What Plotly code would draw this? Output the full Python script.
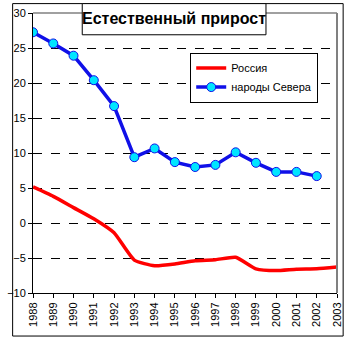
import plotly.graph_objects as go

years = list(range(1988, 2004))
russia = [5.15, 3.8, 2.2, 0.6, -1.4, -5.3, -6.1, -5.85, -5.4, -5.25, -4.9, -6.55, -6.8, -6.6, -6.55, -6.3]
north_years = list(range(1988, 2003))
north = [27.25, 25.65, 23.9, 20.4, 16.7, 9.4, 10.65, 8.7, 8.0, 8.3, 10.1, 8.6, 7.3, 7.3, 6.7]
y_ticks = [-10, -5, 0, 5, 10, 15, 20, 25, 30]

W, H = 350, 337
L, R, T, B = 22, 7, 10, 44
pw, ph = W - L - R, H - T - B

def px(x):
    return (x - L) / pw

def py(y):
    return 1 - (y - T) / ph

fig = go.Figure()
fig.add_trace(go.Scatter(x=years, y=russia, name="Россия", mode="lines",
                         line=dict(color="#ff0000", width=3.5, shape="spline", smoothing=0.5)))
fig.add_trace(go.Scatter(x=north_years, y=north, name="народы Севера", mode="lines+markers",
                         line=dict(color="#1010e8", width=3.5),
                         marker=dict(size=9, color="#00e5ff", line=dict(color="#1010e8", width=1))))

fig.update_layout(
    width=W, height=H,
    margin=dict(l=L, r=R, t=T, b=B),
    paper_bgcolor="white", plot_bgcolor="white",
    font=dict(family="Arial, Liberation Sans, sans-serif", size=11, color="black"),
    showlegend=True,
    legend=dict(x=px(188), y=py(50), xanchor="left", yanchor="top",
                bordercolor="black", borderwidth=1, bgcolor="white",
                font=dict(size=11), tracegroupgap=0, itemwidth=30),
    xaxis=dict(range=[1988, 2003], tickvals=years, ticktext=[str(y) for y in years],
               tickangle=-90, showgrid=False, zeroline=False, showline=True,
               linecolor="black", linewidth=1, ticks="outside", ticklen=4,
               tickcolor="black", tickfont=dict(size=11)),
    yaxis=dict(range=[-10, 30], tickvals=y_ticks, showgrid=True, gridcolor="black",
               griddash="dash", gridwidth=1, zeroline=False, showline=True,
               linecolor="black", linewidth=1, ticks="outside", ticklen=4,
               tickcolor="black", tickfont=dict(size=11)),
)

# plot area top/right border (gray)
fig.add_shape(type="line", xref="paper", yref="paper", x0=0, x1=1, y0=1, y1=1,
              line=dict(color="#808080", width=1.5))
fig.add_shape(type="line", xref="paper", yref="paper", x0=1, x1=1, y0=0, y1=1,
              line=dict(color="#808080", width=2))
# outer border
fig.add_shape(type="rect", xref="paper", yref="paper",
              x0=px(0.5), x1=px(W - 0.5), y0=py(H - 0.5), y1=py(0.5),
              line=dict(color="black", width=1), layer="above")
# title box
fig.add_shape(type="rect", xref="paper", yref="paper",
              x0=px(74), x1=px(268), y0=py(32), y1=py(0.5),
              line=dict(color="black", width=1), fillcolor="white", layer="above")
fig.add_annotation(xref="paper", yref="paper", x=px(171), y=py(16),
                   text="<b>Естественный прирост</b>", showarrow=False,
                   font=dict(size=16, family="Arial, Liberation Sans, sans-serif", color="black"),
                   xanchor="center", yanchor="middle")

fig.write_html("out.html")
